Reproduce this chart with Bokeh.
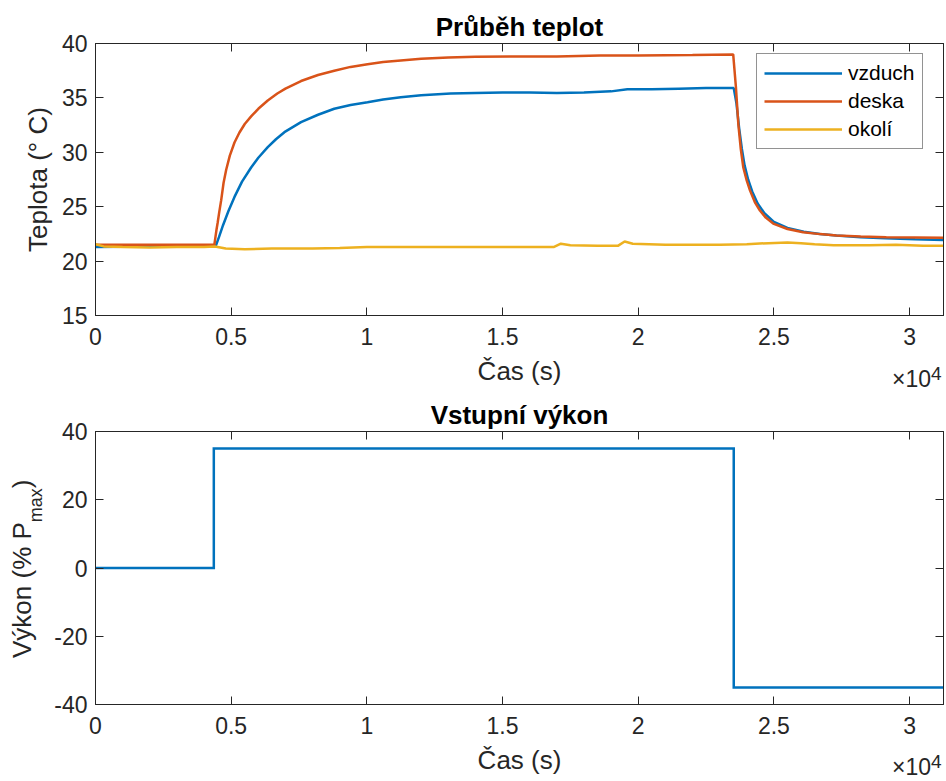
from bokeh.plotting import figure
from bokeh.models import Range1d, FixedTicker, LinearAxis, Legend, LegendItem, Div
from bokeh.layouts import column
from bokeh.embed import file_html
from bokeh.resources import INLINE

# ---------------- data ----------------
X_START, X_END = 0, 31250
X_TICKS = [0, 5000, 10000, 15000, 20000, 25000, 30000]
X_TICK_LABELS = ["0", "0.5", "1", "1.5", "2", "2.5", "3"]

T_MIN, T_MAX = 15, 40
T_TICKS = [15, 20, 25, 30, 35, 40]
P_MIN, P_MAX = -40, 40
P_TICKS = [-40, -20, 0, 20, 40]

vzduch_t = [0, 2000, 4400, 4440, 4550, 4700, 4900, 5122, 5400, 5735, 6000, 6348, 6650, 6961,
            7574, 8200, 8799, 9400, 10025, 10600, 11250, 12000, 13088, 14000, 15000, 16000,
            17000, 18000, 19000, 19600, 20500, 21500, 22500, 23520, 23620, 23720, 23820,
            23920, 24050, 24200, 24400, 24650, 25000, 25500, 26100, 26700, 27300, 28200,
            29100, 30200, 31250]
vzduch_v = [21.3, 21.35, 21.4, 21.45, 22.2, 23.3, 24.6, 25.9, 27.3, 28.6, 29.5, 30.47, 31.2, 31.85,
            32.77, 33.45, 34.0, 34.35, 34.6, 34.85, 35.07, 35.25, 35.4, 35.45, 35.5, 35.5,
            35.45, 35.5, 35.6, 35.8, 35.8, 35.85, 35.9, 35.9, 34.5, 32.2, 30.3,
            28.8, 27.5, 26.4, 25.3, 24.4, 23.6, 23.05, 22.7, 22.5, 22.35, 22.2,
            22.1, 22.0, 21.95]

deska_t = [0, 4380, 4420, 4460, 4500, 4560, 4632, 4720, 4816, 4950, 5122, 5300, 5500, 5735,
           6000, 6348, 6700, 7000, 7574, 8200, 8799, 9400, 10025, 10600, 11250, 12000, 13000,
           14000, 15500, 17000, 18600, 20000, 22000, 23500, 23600, 23689, 23780, 23873,
           24000, 24118, 24300, 24485, 24700, 24975, 25500, 26078, 26700, 27304, 28200,
           29142, 30200, 31250]
deska_v = [21.5, 21.5, 22.2, 22.9, 23.5, 24.5, 25.6, 27.2, 28.4, 29.7, 30.9, 31.8, 32.6, 33.3,
           34.0, 34.76, 35.4, 35.85, 36.55, 37.1, 37.5, 37.85, 38.1, 38.3, 38.44, 38.6, 38.72,
           38.78, 38.8, 38.8, 38.9, 38.9, 38.95, 39.0, 36.0, 32.6, 30.3, 28.6,
           27.4, 26.5, 25.4, 24.65, 24.0, 23.45, 22.95, 22.66, 22.48, 22.35, 22.27,
           22.2, 22.17, 22.14]

okoli_t = [0, 300, 1000, 2000, 3000, 4000, 4400, 4800, 5500, 6500, 8000, 9000, 10000, 12000,
           14000, 16000, 16900, 17150, 17500, 18500, 19250, 19500, 19800, 21000, 22000,
           23000, 24000, 24800, 25500, 26000, 26500, 27200, 28500, 29500, 30500, 31250]
okoli_v = [21.55, 21.35, 21.3, 21.25, 21.3, 21.3, 21.35, 21.15, 21.1, 21.15, 21.15, 21.2, 21.3, 21.3,
           21.3, 21.3, 21.3, 21.6, 21.45, 21.4, 21.4, 21.8, 21.6, 21.5, 21.5,
           21.5, 21.55, 21.65, 21.7, 21.65, 21.55, 21.45, 21.45, 21.5, 21.4, 21.4]

power_t = [0, 4360, 23520, 31250]
power_v = [0, 35, -35, -35]

# ---------------- style ----------------
FONT = "Liberation Sans"
AX = "#262626"
BLUE, ORANGE, YELLOW = "#0072BD", "#D95319", "#EDB120"
LW = 2.5


def style_axis(ax, hidden=False):
    ax.axis_line_color = AX
    ax.axis_line_width = 1
    ax.major_tick_line_color = AX
    ax.major_tick_line_width = 1
    ax.major_tick_in = 8
    ax.major_tick_out = 0
    ax.minor_tick_line_color = None
    ax.major_label_text_font = FONT
    ax.major_label_text_color = AX
    ax.axis_label_text_font = FONT
    ax.axis_label_text_font_size = "26px"
    ax.axis_label_text_font_style = "normal"
    ax.axis_label_text_color = AX
    if hidden:
        ax.major_label_text_font_size = "0px"
        ax.major_label_standoff = 0
    else:
        ax.major_label_text_font_size = "23px"


def make_fig(height, ymin, ymax, yticks, title, bottom_border):
    p = figure(width=946, height=height, output_backend="svg", toolbar_location=None,
               x_range=Range1d(X_START, X_END), y_range=Range1d(ymin, ymax),
               min_border_left=95, min_border_right=3, min_border_top=43,
               min_border_bottom=bottom_border)
    p.grid.grid_line_color = None
    p.outline_line_color = AX
    p.background_fill_color = "white"
    p.border_fill_color = "white"
    p.title.text = title
    p.title.text_font = FONT
    p.title.text_font_size = "26px"
    p.title.text_font_style = "bold"
    p.title.text_color = "black"
    p.title.align = "center"
    p.title.standoff = 4

    xa = p.xaxis[0]
    xa.ticker = FixedTicker(ticks=X_TICKS)
    xa.major_label_overrides = {t: l for t, l in zip(X_TICKS, X_TICK_LABELS)}
    style_axis(xa)
    xa.major_label_standoff = 12
    xa.axis_label = "Čas (s)"
    xa.axis_label_standoff = 8

    ya = p.yaxis[0]
    ya.ticker = FixedTicker(ticks=yticks)
    ya.major_label_overrides = {t: str(t) for t in yticks}
    style_axis(ya)
    ya.major_label_standoff = 8
    ya.axis_label_standoff = 6

    ra = LinearAxis(ticker=FixedTicker(ticks=yticks), major_label_overrides={t: "" for t in yticks})
    style_axis(ra, hidden=True)
    p.add_layout(ra, "right")
    ta = LinearAxis(ticker=FixedTicker(ticks=X_TICKS), major_label_overrides={t: "" for t in X_TICKS})
    style_axis(ta, hidden=True)
    p.add_layout(ta, "above")
    return p


# ---------------- top: temperatures ----------------
p1 = make_fig(388, T_MIN, T_MAX, T_TICKS, "Průběh teplot", 73)
p1.yaxis[0].axis_label = "Teplota (° C)"

r1 = p1.line(vzduch_t, vzduch_v, line_color=BLUE, line_width=LW)
r2 = p1.line(deska_t, deska_v, line_color=ORANGE, line_width=LW)
r3 = p1.line(okoli_t, okoli_v, line_color=YELLOW, line_width=LW)

legend = Legend(items=[LegendItem(label="vzduch", renderers=[r1]),
                       LegendItem(label="deska", renderers=[r2]),
                       LegendItem(label="okolí", renderers=[r3])],
                location=(661, 166))
legend.label_text_font = FONT
legend.label_text_font_size = "21px"
legend.label_text_color = "black"
legend.glyph_width = 78
legend.glyph_height = 20
legend.label_height = 20
legend.spacing = 4
legend.padding = 7
legend.margin = 0
legend.label_standoff = 6
legend.border_line_color = AX
legend.border_line_width = 1
legend.background_fill_color = "white"
legend.background_fill_alpha = 1
p1.add_layout(legend)

# ---------------- bottom: power ----------------
p2 = make_fig(393, P_MIN, P_MAX, P_TICKS, "Vstupní výkon", 77)
p2.yaxis[0].axis_label = None
p2.step(power_t, power_v, mode="after", line_color=BLUE, line_width=LW, line_join="miter")


# ---------------- texts that sit outside the frames (HTML, with sub/superscripts) ----------------
def overlay_div(html, left, top, size, extra=None):
    st = {"position": "absolute", "left": f"{left}px", "top": f"{top}px",
          "font-family": FONT, "font-size": f"{size}px", "line-height": f"{size}px",
          "color": AX, "white-space": "nowrap", "margin": "0", "padding": "0",
          "z-index": "10"}
    if extra:
        st.update(extra)
    return Div(text=html, styles=st, margin=0)


sup4 = '×10<span style="font-size:19px;position:relative;top:-7px">4</span>'
d_top = overlay_div(sup4, 892, 368, 23)
d_bot = overlay_div(sup4, 892, 756, 23)
ylab = ('Výkon (% P<span style="font-size:18px;position:relative;top:11px">max</span>)')
d_ylab = overlay_div(ylab, 9.4, 658, 26,
                     {"transform": "rotate(-90deg)", "transform-origin": "0 0"})

layout = column(p1, p2, d_top, d_bot, d_ylab, spacing=0)
open("out.html", "w").write(file_html(layout, INLINE))
